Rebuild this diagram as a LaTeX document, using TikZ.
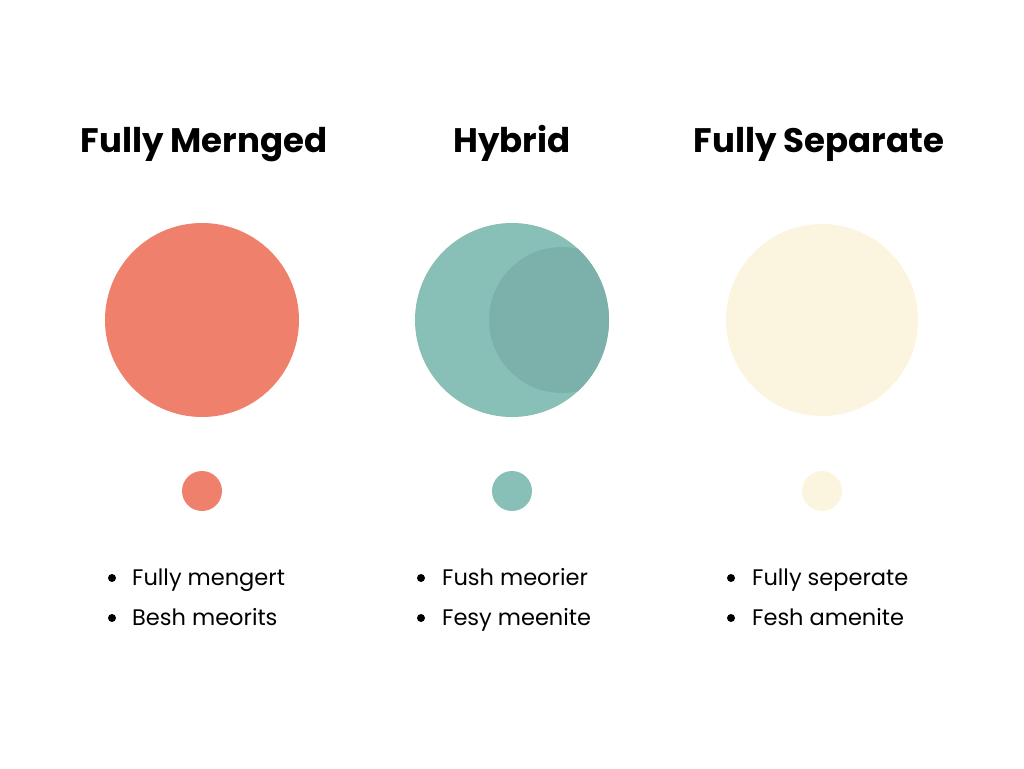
\documentclass[tikz,border=0pt]{standalone}
\usepackage{fontspec}
\setmainfont{Poppins}
\definecolor{salmon}{HTML}{EF806C}
\definecolor{teal1}{HTML}{88C0B8}
\definecolor{teal2}{HTML}{7BB1AA}
\definecolor{cream}{HTML}{FBF5E0}
\begin{document}
\begin{tikzpicture}[x=1pt,y=-1pt,
  title/.style={font=\fontsize{34}{38}\selectfont\bfseries, anchor=base},
  item/.style={font=\fontsize{22.5}{26}\selectfont, anchor=base west, inner sep=0pt},
  dot/.style={circle, fill=black, minimum size=8pt, inner sep=0pt}]
\useasboundingbox (0,0) rectangle (1024,768);
\fill[white] (0,0) rectangle (1024,768);
% titles
\node[title] (t1) at (204,152) {Fully Mernged};
\node[title] (t2) at (512,152) {Hybrid};
\node[title] (t3) at (819,152) {Fully Separate};
% big circles
\fill[salmon] (202,320) circle (97);
\fill[teal1] (512,320) circle (97);
\begin{scope}
  \clip (512,320) circle (97);
  \fill[teal2] (562,320) circle (73);
\end{scope}
\fill[cream] (822,320) circle (96);
% small circles
\fill[salmon] (202,491) circle (20);
\fill[teal1] (512,491) circle (20);
\fill[cream] (822,491) circle (20);
% lists
\node[dot] (b11) at (112,578) {};
\node[item] (l11) at (132,585) {Fully mengert};
\node[dot] (b12) at (112,618) {};
\node[item] (l12) at (132,625) {Besh meorits};
\node[dot] (b21) at (421,578) {};
\node[item] (l21) at (442,585) {Fush meorier};
\node[dot] (b22) at (421,618) {};
\node[item] (l22) at (442,625) {Fesy meenite};
\node[dot] (b31) at (731,578) {};
\node[item] (l31) at (752,585) {Fully seperate};
\node[dot] (b32) at (731,618) {};
\node[item] (l32) at (752,625) {Fesh amenite};
\end{tikzpicture}
\end{document}
